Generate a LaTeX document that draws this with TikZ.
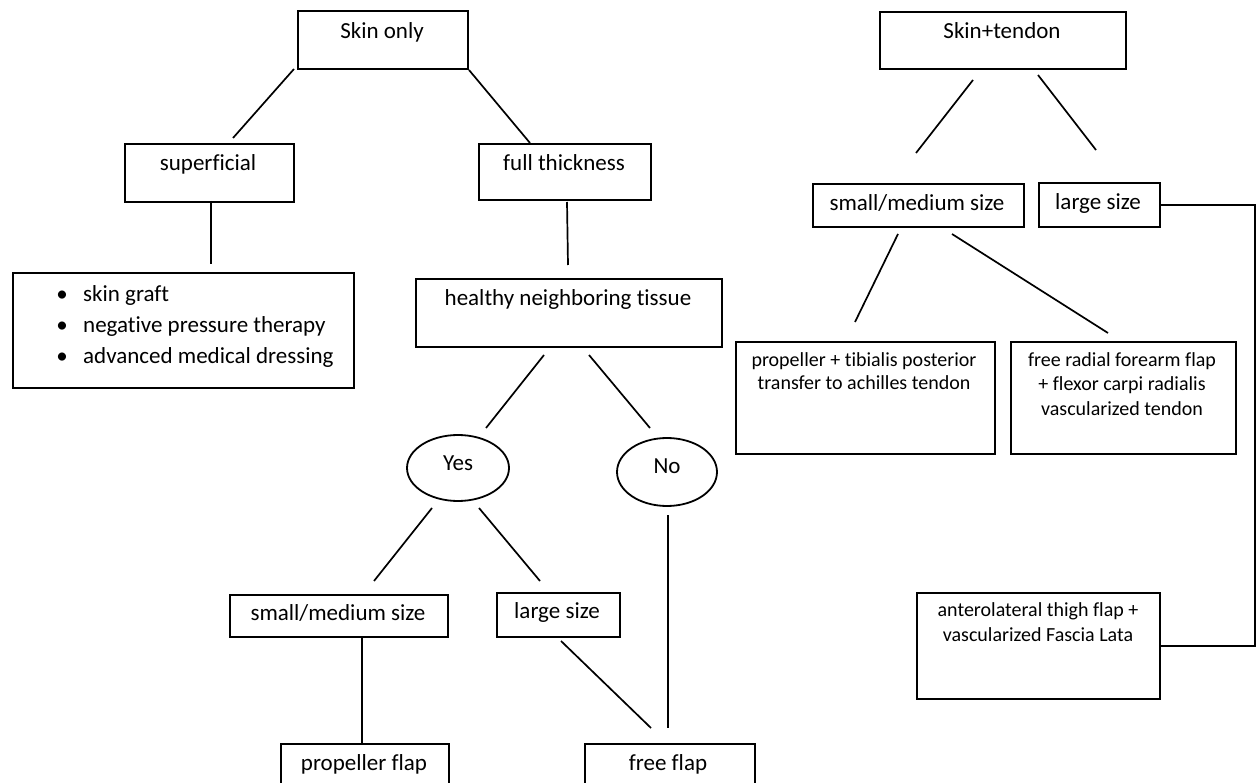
\documentclass[tikz,border=0pt]{standalone}
\usepackage{fontspec}
\setmainfont{Carlito}[Ligatures=NoCommon]
\usetikzlibrary{shapes.geometric}
\newcommand\bigf{\fontsize{23}{27}\selectfont}
\newcommand\smallf{\fontsize{20}{24}\selectfont}
\begin{document}
\begin{tikzpicture}[x=1pt,y=-1pt,
  box/.style={draw, line width=1.8pt, inner sep=0, anchor=north west},
  conn/.style={line width=1.7pt},
  oval/.style={draw, ellipse, line width=1.8pt, inner sep=0},
  big/.style={font=\bigf, inner sep=0, text height=10.7pt, text depth=0pt},
  sml/.style={font=\smallf, inner sep=0, text height=9.3pt, text depth=0pt}]
\useasboundingbox (0,0) rectangle (1256,783);
\fill[white] (0,0) rectangle (1256,783);
\clip (0,0) rectangle (1256,783);

% ---------- left tree: boxes ----------
\node[box, minimum width=170pt, minimum height=58pt] (skin) at (297,10) {};
\node[box, minimum width=169pt, minimum height=58pt] (sup) at (124,143) {};
\node[box, minimum width=172pt, minimum height=56pt] (full) at (478,143) {};
\node[box, minimum width=341pt, minimum height=115pt] (bul) at (12,272) {};
\node[box, minimum width=306pt, minimum height=68pt] (heal) at (415,278) {};
\node[oval, minimum width=102pt, minimum height=66pt] (yes) at (458,468) {};
\node[oval, minimum width=100pt, minimum height=68pt] (no) at (667,472) {};
\node[box, minimum width=218pt, minimum height=42pt] (smL) at (229,594) {};
\node[box, minimum width=123pt, minimum height=44pt] (lgM) at (496,592) {};
\node[box, minimum width=168pt, minimum height=60pt] (prop) at (280,743) {};
\node[box, minimum width=170pt, minimum height=60pt] (free) at (584,743) {};

% ---------- left tree: texts ----------
\node[big] (tskin) at (382,33) {Skin only};
\node[big] (tsup) at (208,165) {superficial};
\node[big] (tfull) at (564,165) {full thickness};
\node[big] (b1) at (62,296) {\textbullet};
\node[big] (b2) at (62,327) {\textbullet};
\node[big] (b3) at (62,358) {\textbullet};
\node[big, anchor=west] (tb1) at (83,296) {skin graft};
\node[big, anchor=west] (tb2) at (83,327) {negative pressure therapy};
\node[big, anchor=west] (tb3) at (83,358) {advanced medical dressing};
\node[big] (theal) at (568,300) {healthy neighboring tissue};
\node[big] (tyes) at (458,465) {Yes};
\node[big] (tno) at (667,468) {No};
\node[big] (tsmL) at (338,615) {small/medium size};
\node[big] (tlgM) at (557,613) {large size};
\node[big] (tprop) at (364,765) {propeller flap};
\node[big] (tfree) at (668,765) {free flap};

% ---------- left tree: connector ends ----------
\coordinate (c1a) at (294,69);  \coordinate (c1b) at (233,138);
\coordinate (c2a) at (469,70);  \coordinate (c2b) at (530,143);
\coordinate (c3a) at (211,201); \coordinate (c3b) at (211,264);
\coordinate (c4a) at (567,202); \coordinate (c4b) at (568,265);
\coordinate (c5a) at (544,355); \coordinate (c5b) at (486,428);
\coordinate (c6a) at (589,355); \coordinate (c6b) at (650,428);
\coordinate (c7a) at (432,508); \coordinate (c7b) at (374,581);
\coordinate (c8a) at (479,508); \coordinate (c8b) at (540,581);
\coordinate (c9a) at (362,638); \coordinate (c9b) at (362,743);
\coordinate (c10a) at (561,641); \coordinate (c10b) at (651,728);
\coordinate (c11a) at (668,515); \coordinate (c11b) at (668,728);

\draw[conn] (c1a) -- (c1b);
\draw[conn] (c2a) -- (c2b);
\draw[conn] (c3a) -- (c3b);
\draw[conn] (c4a) -- (c4b);
\draw[conn] (c5a) -- (c5b);
\draw[conn] (c6a) -- (c6b);
\draw[conn] (c7a) -- (c7b);
\draw[conn] (c8a) -- (c8b);
\draw[conn] (c9a) -- (c9b);
\draw[conn] (c10a) -- (c10b);
\draw[conn] (c11a) -- (c11b);

% ---------- right tree: boxes ----------
\node[box, minimum width=246pt, minimum height=57pt] (st) at (879,11) {};
\node[box, minimum width=211pt, minimum height=43pt] (smR) at (812,183) {};
\node[box, minimum width=121pt, minimum height=44pt] (lgR) at (1038,182) {};
\node[box, minimum width=259pt, minimum height=112pt] (pt) at (735,341) {};
\node[box, minimum width=225pt, minimum height=112pt] (fr) at (1010,341) {};
\node[box, minimum width=243pt, minimum height=106pt] (alt) at (916,592) {};

% ---------- right tree: texts ----------
\node[big] (tst) at (1002,33) {Skin+tendon};
\node[big] (tsmR) at (917,205) {small/medium size};
\node[big] (tlgR) at (1098,204) {large size};
\node[sml] (tpt1) at (864,362) {propeller + tibialis posterior};
\node[sml] (tpt2) at (864,385) {transfer to achilles tendon};
\node[sml] (tfr1) at (1122,362) {free radial forearm flap};
\node[sml] (tfr2) at (1122,386) {+ flexor carpi radialis};
\node[sml] (tfr3) at (1122,411) {vascularized tendon};
\node[sml] (talt1) at (1038,612) {anterolateral thigh flap +};
\node[sml] (talt2) at (1038,637) {vascularized Fascia Lata};

% ---------- right tree: connectors ----------
\coordinate (d1a) at (973,80);  \coordinate (d1b) at (916,153);
\coordinate (d2a) at (1038,75); \coordinate (d2b) at (1096,150);
\coordinate (d3a) at (898,234); \coordinate (d3b) at (855,322);
\coordinate (d4a) at (952,234); \coordinate (d4b) at (1108,333);
\draw[conn] (d1a) -- (d1b);
\draw[conn] (d2a) -- (d2b);
\draw[conn] (d3a) -- (d3b);
\draw[conn] (d4a) -- (d4b);
\draw[conn] (lgR.east) -- ++(94,0) |- (alt.east);
\end{tikzpicture}
\end{document}
